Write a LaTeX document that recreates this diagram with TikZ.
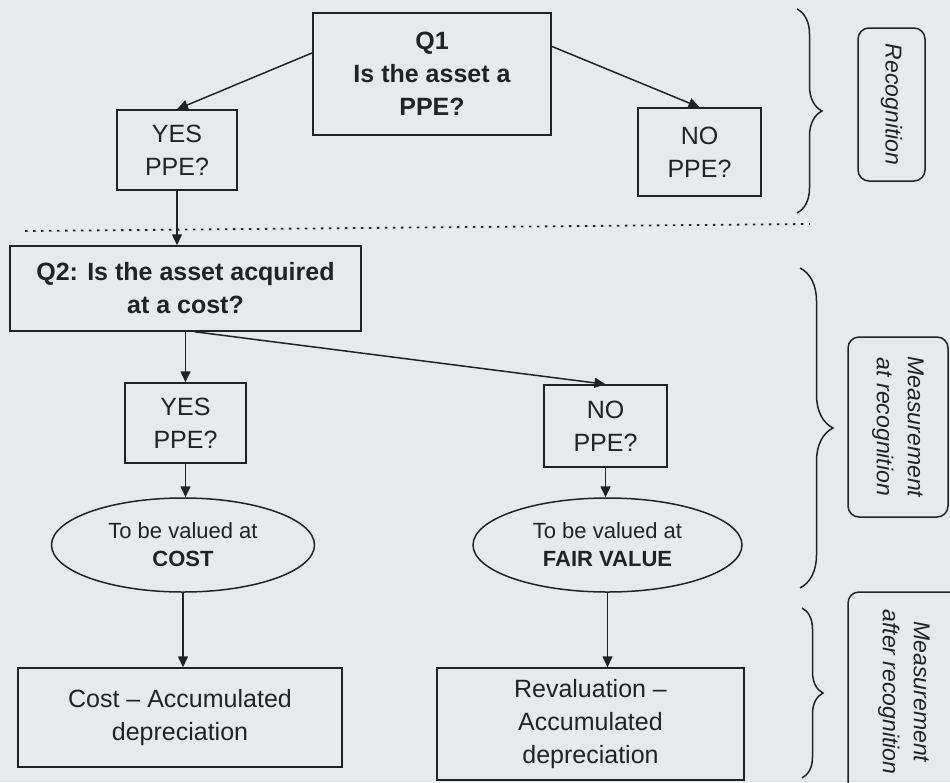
\documentclass[tikz,border=0pt]{standalone}
\usepackage{fontspec}
\setmainfont{Liberation Sans}
\usetikzlibrary{arrows.meta,shapes.geometric,decorations.pathreplacing}
\definecolor{bg}{RGB}{232,233,237}
\definecolor{ink}{RGB}{32,35,35}
\begin{document}
\begin{tikzpicture}[x=1pt,y=-1pt,
  box/.style={draw=ink, line width=1.5pt, inner sep=0pt, align=center, text=ink,
    font=\fontsize{25}{33}\selectfont},
  boldbox/.style={box, font=\bfseries\fontsize{25}{33}\selectfont},
  ell/.style={ellipse, draw=ink, line width=1.5pt, inner sep=0pt, align=center, text=ink,
    font=\fontsize{22}{28}\selectfont},
  lbl/.style={draw=ink, line width=1.5pt, rounded corners=11pt, rotate=-90, inner sep=0pt,
    align=center, text=ink, font=\itshape\fontsize{23}{31}\selectfont},
  arr/.style={draw=ink, line width=1.5pt, -{Triangle[length=11pt,width=10pt]}},
  dotline/.style={draw=ink, line width=1.8pt, dash pattern=on 2.5pt off 5.5pt},
  bracestyle/.style={draw=ink, line width=1.5pt, decorate}
]
\fill[bg] (0,0) rectangle (950,782);
\useasboundingbox (0,0) rectangle (950,782);
\clip (0,0) rectangle (950,782);

% nodes
\node[boldbox, minimum width=238pt, minimum height=122pt] (q1) at (432,74) {Q1\\Is the asset a\\PPE?};
\node[box, minimum width=120pt, minimum height=80pt] (yes1) at (177,150) {YES\\PPE?};
\node[box, minimum width=123pt, minimum height=88pt] (no1) at (699.5,152) {NO\\PPE?};
\node[boldbox, minimum width=351pt, minimum height=85pt] (q2) at (185.5,288.5) {Q2: Is the asset acquired\\at a cost?};
\node[box, minimum width=121pt, minimum height=80pt] (yes2) at (185.5,423) {YES\\PPE?};
\node[box, minimum width=123pt, minimum height=82pt] (no2) at (605.5,426) {NO\\PPE?};
\node[ell, minimum width=263pt, minimum height=94pt] (e1) at (183,545) {To be valued at\\\textbf{COST}};
\node[ell, minimum width=269pt, minimum height=94pt] (e2) at (607.5,545) {To be valued at\\\textbf{FAIR VALUE}};
\node[box, minimum width=324pt, minimum height=99pt] (cost) at (180,717.5) {Cost -- Accumulated\\depreciation};
\node[box, minimum width=307pt, minimum height=112pt] (reval) at (590.5,724) {Revaluation --\\Accumulated\\depreciation};

% side labels
\node[lbl, minimum width=153pt, minimum height=67pt] (rec) at (891.5,104.5) {Recognition};
\node[lbl, minimum width=180pt, minimum height=100pt] (mar) at (898,427) {Measurement\\at recognition};
\node[lbl, minimum width=200pt, minimum height=112pt] (maft) at (904,692) {Measurement\\after recognition};

% connectors
\draw[arr] (q1.170) -- (yes1.north);
\draw[arr] (q1.13) -- (no1.north);
\draw[arr] (yes1.south) -- (yes1.south |- q2.north);
\draw[arr] (yes2.north |- q2.south) -- (yes2.north);
\draw[arr] (q2.-78) -- (no2.north);
\draw[arr] (yes2.south) -- (yes2.south |- e1.north);
\draw[arr] (e1.south) -- (e1.south |- cost.north);
\draw[arr] (no2.south) -- (no2.south |- e2.north);
\draw[arr] (e2.south) -- (e2.south |- reval.north);

% dotted separator
\coordinate (dl) at (25,231);
\coordinate (dr) at (810,224);
\draw[dotline] (dl) -- (dr);

% braces
\draw[bracestyle, decoration={brace, amplitude=25pt}] (797,9) -- (797,213);
\draw[bracestyle, decoration={brace, amplitude=33pt}] (800,268) -- (800,588);
\draw[bracestyle, decoration={brace, amplitude=21pt}] (802,608) -- (802,778);
\end{tikzpicture}
\end{document}
